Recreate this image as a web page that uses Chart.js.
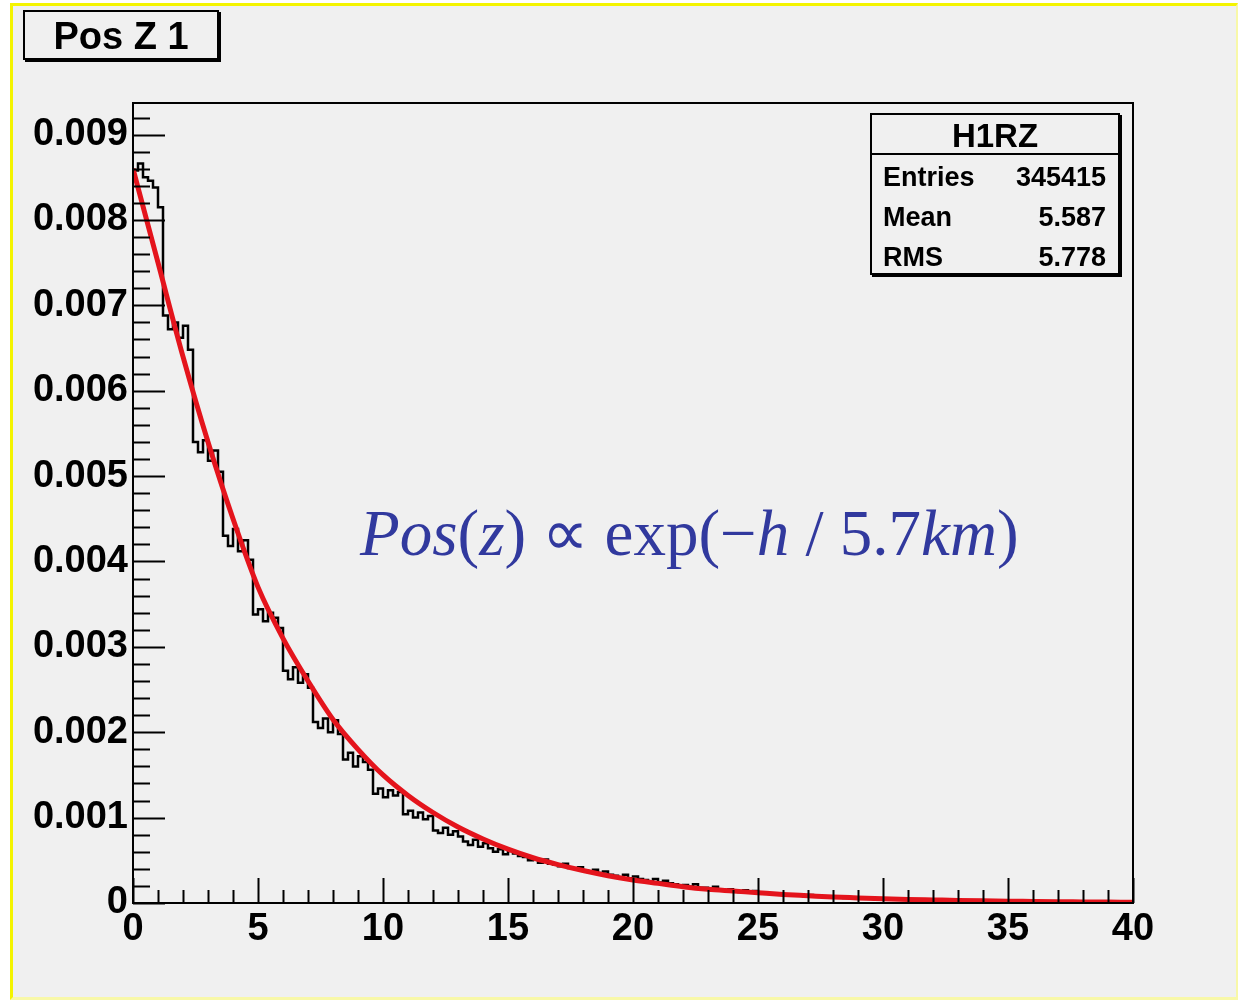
<!DOCTYPE html>
<html>
<head>
<meta charset="utf-8">
<script src="https://cdn.jsdelivr.net/npm/chart.js@4.4.1/dist/chart.umd.min.js"></script>
<style>
  html, body { margin: 0; padding: 0; background: #ffffff; }
  #page { position: relative; width: 1238px; height: 1001px; overflow: hidden; }
  #frame { position: absolute; left: 10px; top: 3px; width: 1223px; height: 991px;
           background: #f0f0f0; border-left: 3px solid #f4f400; border-top: 3px solid #f4f400;
           border-right: 2px solid #f8f8a8; border-bottom: 3px solid #f8f8a8; }
  #chart { position: absolute; left: 0; top: 0; }
  .box { position: absolute; background: #f0f0f0; border: 2px solid #000;
         box-shadow: 2px 2px 0 #000; font-family: "Liberation Sans", Arial, sans-serif;
         font-weight: bold; color: #000; }
  #title { left: 23px; top: 10px; width: 192px; height: 46px; font-size: 38px;
           line-height: 48px; text-align: center; }
  #stats { left: 870px; top: 113px; width: 246px; height: 158px; }
  #stats .head { height: 38px; line-height: 42px; font-size: 33px; text-align: center;
                 border-bottom: 2px solid #000; }
  #stats .row { position: absolute; left: 11px; right: 12px; height: 40px; line-height: 40px;
                font-size: 27px; }
  #stats .row span { position: absolute; right: 0; }
  #formula { position: absolute; left: 360px; top: 495px; font-family: "Liberation Serif", "Times New Roman", serif;
             font-size: 65px; color: #31399e; white-space: nowrap; }
  #formula i { font-style: italic; }
</style>
</head>
<body>
<div id="page">
  <div id="frame"></div>
  <canvas id="chart" width="1238" height="1001"></canvas>
  <div class="box" id="title">Pos Z 1</div>
  <div class="box" id="stats"></div>
  <div id="formula"><i>Pos</i>(<i>z</i>) &#8733; exp(&#8722;<i>h</i> / 5.7<i>km</i>)</div>
</div>
<script>
// histogram H1RZ, 200 bins of 0.2 from 0 to 40
const binWidth = 0.2;
const histValues = [
  0.00858, 0.00866, 0.00850, 0.00846, 0.00838, 0.00815,
  0.00688, 0.00672, 0.00680, 0.00662, 0.00676, 0.00648,
  0.00540, 0.00528, 0.00542, 0.00518, 0.00530, 0.00505,
  0.00430, 0.00418, 0.00438, 0.00412, 0.00425, 0.00402,
  0.00338, 0.00344, 0.00330, 0.00340, 0.00334, 0.00322,
  0.00272, 0.00262, 0.00276, 0.00258, 0.00268, 0.00252,
  0.00212, 0.00205, 0.00216, 0.00200, 0.00214, 0.00198,
  0.00168, 0.00176, 0.00160, 0.00172, 0.00165, 0.00156,
  0.00128, 0.00134, 0.00124, 0.00132, 0.00126, 0.00130,
  0.00104, 0.00108, 0.00100, 0.00106, 0.00098, 0.00102,
  0.00085, 0.00082, 0.00088, 0.00080, 0.00084, 0.00078,
  0.00072, 0.00068, 0.00074, 0.00066, 0.00070, 0.00064,
  0.00060, 0.00063, 0.00057, 0.00061, 0.00058, 0.00055,
  0.00054, 0.00050, 0.00052, 0.00047, 0.00051, 0.00046,
  0.00045, 0.00043, 0.00046, 0.00041, 0.00040, 0.00042,
  0.00038, 0.00036, 0.00039, 0.00035, 0.00037, 0.00033,
  0.00032, 0.00030, 0.00033, 0.00029, 0.00031, 0.00028,
  0.00027, 0.00025, 0.00028, 0.00024, 0.00026, 0.00023,
  0.00022, 0.00020, 0.00021, 0.00019, 0.00022, 0.00018,
  0.00018, 0.00017, 0.00019, 0.00016, 0.00015, 0.00016,
  0.00014, 0.00013, 0.00015, 0.00012, 0.00014, 0.00012,
  0.00012, 0.00011, 0.00010, 0.00011, 0.00009, 0.00010,
  0.000085, 0.00009, 0.00008, 0.000095, 0.000075, 0.00008,
  0.00007, 0.000075, 0.000065, 0.00007, 0.00006, 0.000065,
  0.000055, 0.00006, 0.00005, 0.000058, 0.000048, 0.00005,
  0.000045, 0.00004, 0.000048, 0.000042, 0.000038, 0.000044,
  0.00004, 0.000035, 0.00003, 0.000038, 0.000032, 0.000028,
  0.00003, 0.000026, 0.000032, 0.000024, 0.000028, 0.000022,
  0.000025, 0.00002, 0.000024, 0.000018, 0.000022, 0.00002,
  0.000018, 0.000016, 0.00002, 0.000015, 0.000017, 0.000014,
  0.000008, 0.000006, 0.000012, 0.000005, 0.00001, 0.000007,
  0.000008, 0.000006, 0.00001, 0.000005, 0.000007, 0.000009,
  0.000006, 0.000008, 0.000005, 0.000009, 0.000006, 0.000007, 0.000005, 0.000008
];

// red fit curve, read at integer z
const fitX = [0, 1, 2, 3, 4, 5, 6, 7, 8, 9, 10, 11, 12, 13, 14, 15, 16, 17, 18, 19, 20,
  21, 22, 23, 24, 25, 26, 27, 28, 29, 30, 31, 32, 33, 34, 35, 36, 37, 38, 39, 40];
const fitY = [0.0086, 0.0075, 0.0064, 0.0054, 0.0045, 0.0037, 0.0031, 0.0026, 0.00215, 0.0018,
  0.0015, 0.00126, 0.00106, 0.00089, 0.00075, 0.00063, 0.00053, 0.00045, 0.00038, 0.00032,
  0.00027, 0.00023, 0.00019, 0.00016, 0.00014, 0.00012, 0.0001, 0.000085, 0.00007, 0.00006,
  0.00005, 0.000042, 0.000036, 0.00003, 0.000025, 0.000021, 0.000018, 0.000015, 0.000013,
  0.000011, 0.000009];

const xTickValues = [0, 5, 10, 15, 20, 25, 30, 35, 40];
const xTickLabels = ['0', '5', '10', '15', '20', '25', '30', '35', '40'];
const yTickValues = [0, 0.001, 0.002, 0.003, 0.004, 0.005, 0.006, 0.007, 0.008, 0.009];
const yTickLabels = ['0', '0.001', '0.002', '0.003', '0.004', '0.005', '0.006', '0.007', '0.008', '0.009'];

const statsTitle = 'H1RZ';
const statsNames = ['Entries', 'Mean', 'RMS'];
const statsValues = ['345415', '5.587', '5.778'];

// stats box
const stats = document.getElementById('stats');
stats.innerHTML = '<div class="head">' + statsTitle + '</div>';
statsNames.forEach((n, i) => {
  const row = document.createElement('div');
  row.className = 'row';
  row.style.top = (42 + i * 40) + 'px';
  row.innerHTML = n + '<span>' + statsValues[i] + '</span>';
  stats.appendChild(row);
});

const histPoints = histValues.map((v, i) => ({ x: i * binWidth, y: v }));
histPoints.push({ x: histValues.length * binWidth, y: histValues[histValues.length - 1] });
const fitPoints = fitX.map((x, i) => ({ x: x, y: fitY[i] }));

// ROOT style frame with ticks pointing inward
const rootFrame = {
  id: 'rootFrame',
  afterDatasetsDraw(chart) {
    const ctx = chart.ctx, a = chart.chartArea;
    const xs = chart.scales.x, ys = chart.scales.y;
    ctx.save();
    ctx.strokeStyle = '#000';
    ctx.lineWidth = 2;
    ctx.strokeRect(a.left, a.top, a.right - a.left, a.bottom - a.top);
    ctx.beginPath();
    for (let i = 0; i <= 40; i++) {
      const px = Math.round(xs.getPixelForValue(i)) + 0.5;
      const len = i % 5 === 0 ? 25 : 13;
      ctx.moveTo(px, a.bottom);
      ctx.lineTo(px, a.bottom - len);
    }
    for (let i = 0; i <= 46; i++) {
      const py = Math.round(ys.getPixelForValue(i * 0.0002)) + 0.5;
      const len = i % 5 === 0 ? 32 : 17;
      ctx.moveTo(a.left, py);
      ctx.lineTo(a.left + len, py);
    }
    ctx.stroke();
    ctx.restore();
  }
};

const tickFont = { family: 'Liberation Sans', weight: 'bold', size: 38 };

new Chart(document.getElementById('chart'), {
  type: 'line',
  data: {
    datasets: [
      {
        label: 'fit',
        data: fitPoints,
        borderColor: '#e4141c',
        borderWidth: 5,
        pointRadius: 0,
        tension: 0.4,
        cubicInterpolationMode: 'monotone',
        order: 0
      },
      {
        label: 'H1RZ',
        data: histPoints,
        borderColor: '#000000',
        borderWidth: 2.5,
        pointRadius: 0,
        stepped: 'before',
        order: 1
      }
    ]
  },
  options: {
    responsive: false,
    animation: false,
    layout: { padding: { left: 0, top: 103, right: 105, bottom: 0 } },
    plugins: { legend: { display: false }, tooltip: { enabled: false } },
    scales: {
      x: {
        type: 'linear',
        min: 0,
        max: 40,
        grid: { display: false },
        border: { display: false },
        afterFit(scale) { scale.height = 98; },
        afterBuildTicks(scale) { scale.ticks = xTickValues.map(v => ({ value: v })); },
        ticks: {
          color: '#000',
          font: tickFont,
          padding: -4,
          maxRotation: 0,
          autoSkip: false,
          callback: (v, i) => xTickLabels[i]
        }
      },
      y: {
        type: 'linear',
        min: 0,
        max: 0.00937,
        grid: { display: false },
        border: { display: false },
        afterFit(scale) { scale.width = 133; },
        afterBuildTicks(scale) { scale.ticks = yTickValues.map(v => ({ value: v })); },
        ticks: {
          color: '#000',
          font: tickFont,
          padding: -3,
          autoSkip: false,
          callback: (v, i) => yTickLabels[i]
        }
      }
    }
  },
  plugins: [rootFrame]
});
</script>
</body>
</html>
